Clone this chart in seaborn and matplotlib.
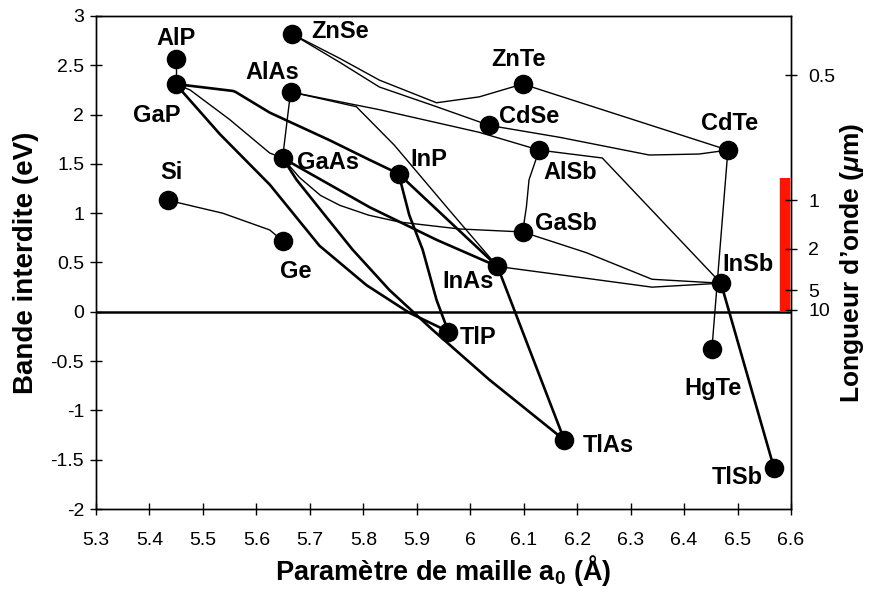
import pandas as pd
import matplotlib
matplotlib.use("Agg")
import matplotlib.pyplot as plt
import seaborn as sns

# binary compounds: lattice constant (A) and band gap (eV)
compounds = ["AlP", "GaP", "Si", "Ge", "ZnSe", "AlAs", "GaAs", "InP", "ZnTe", "CdSe",
             "AlSb", "CdTe", "GaSb", "InAs", "InSb", "TlP", "HgTe", "TlAs", "TlSb"]
lattice = [5.449, 5.449, 5.434, 5.649, 5.666, 5.664, 5.649, 5.866, 6.098, 6.036,
           6.129, 6.482, 6.098, 6.051, 6.469, 5.959, 6.452, 6.176, 6.568]
gap = [2.56, 2.31, 1.13, 0.72, 2.82, 2.23, 1.56, 1.40, 2.31, 1.89,
       1.64, 1.64, 0.81, 0.46, 0.29, -0.20, -0.38, -1.30, -1.58]

# alloy curves (lattice, gap)
GaP_InP = [(5.449, 2.31), (5.556, 2.24), (5.561, 2.23), (5.625, 2.02), (5.737, 1.74), (5.812, 1.54), (5.866, 1.40)]
GaP_TlP = [(5.449, 2.31), (5.532, 1.80), (5.625, 1.29), (5.718, 0.67), (5.806, 0.27), (5.886, -0.01), (5.959, -0.20)]
GaAs_TlAs = [(5.649, 1.56), (5.675, 1.34), (5.728, 0.98), (5.780, 0.63), (5.849, 0.22), (5.929, -0.18), (6.036, -0.69), (6.176, -1.30)]
InP_TlP = [(5.866, 1.40), (5.886, 0.98), (5.911, 0.63), (5.937, 0.12), (5.959, -0.20)]
InAs_TlAs = [(6.051, 0.46), (6.176, -1.30)]
InSb_TlSb = [(6.469, 0.29), (6.568, -1.58)]
GaAs_InAs = [(5.649, 1.56), (5.812, 1.06), (5.937, 0.73), (6.051, 0.46)]
InP_InAs = [(5.866, 1.40), (6.051, 0.46)]

AlP_GaP = [(5.449, 2.56), (5.449, 2.31)]
Si_Ge = [(5.434, 1.13), (5.451, 1.11), (5.537, 1.00), (5.625, 0.83), (5.649, 0.72)]
GaP_GaAs = [(5.449, 2.31), (5.476, 2.25), (5.550, 1.95), (5.625, 1.61), (5.649, 1.56)]
AlAs_GaAs = [(5.664, 2.23), (5.649, 1.56)]
AlAs_InAs = [(5.664, 2.23), (5.787, 2.08), (5.858, 1.69), (5.961, 1.03), (6.051, 0.46)]
GaAs_GaSb = [(5.649, 1.56), (5.681, 1.36), (5.720, 1.18), (5.756, 1.08), (5.810, 0.98), (5.868, 0.91), (5.980, 0.84), (6.098, 0.81)]
GaSb_InSb = [(6.098, 0.81), (6.217, 0.60), (6.340, 0.33), (6.469, 0.29)]
InAs_InSb = [(6.051, 0.46), (6.217, 0.34), (6.340, 0.25), (6.469, 0.29)]
AlSb_InSb = [(6.129, 1.64), (6.247, 1.56), (6.469, 0.29)]
AlSb_GaSb = [(6.129, 1.64), (6.110, 1.34), (6.105, 1.06), (6.098, 0.81)]
AlAs_AlSb = [(5.664, 2.23), (5.830, 2.05), (6.017, 1.82), (6.129, 1.64)]
ZnSe_ZnTe = [(5.666, 2.82), (5.756, 2.57), (5.830, 2.35), (5.937, 2.12), (6.017, 2.18), (6.098, 2.31)]
ZnSe_CdSe = [(5.666, 2.82), (5.756, 2.53), (5.830, 2.28), (5.937, 2.08), (6.036, 1.89)]
ZnTe_CdTe = [(6.098, 2.31), (6.482, 1.64)]
CdSe_CdTe = [(6.036, 1.89), (6.167, 1.77), (6.335, 1.59), (6.428, 1.60), (6.482, 1.64)]
CdTe_HgTe = [(6.482, 1.64), (6.452, -0.38)]

# right axis: wavelength (um) tick positions on the energy scale
wl_labels = ["0.5", "1", "2", "5", "10"]
wl_pos = [2.40, 1.13, 0.64, 0.22, 0.02]
red_band = [0.0, 1.36]

x_ticks = [5.3, 5.4, 5.5, 5.6, 5.7, 5.8, 5.9, 6.0, 6.1, 6.2, 6.3, 6.4, 6.5, 6.6]
x_labels = ["5.3", "5.4", "5.5", "5.6", "5.7", "5.8", "5.9", "6", "6.1", "6.2", "6.3", "6.4", "6.5", "6.6"]
y_ticks = [-2, -1.5, -1, -0.5, 0, 0.5, 1, 1.5, 2, 2.5, 3]
y_labels = ["-2", "-1.5", "-1", "-0.5", "0", "0.5", "1", "1.5", "2", "2.5", "3"]

thick = {"GaP-InP": GaP_InP, "GaP-TlP": GaP_TlP, "GaAs-TlAs": GaAs_TlAs, "InP-TlP": InP_TlP,
         "InAs-TlAs": InAs_TlAs, "InSb-TlSb": InSb_TlSb, "GaAs-InAs": GaAs_InAs, "InP-InAs": InP_InAs}
thin = {"AlP-GaP": AlP_GaP, "Si-Ge": Si_Ge, "GaP-GaAs": GaP_GaAs, "AlAs-GaAs": AlAs_GaAs,
        "AlAs-InAs": AlAs_InAs, "GaAs-GaSb": GaAs_GaSb, "GaSb-InSb": GaSb_InSb, "InAs-InSb": InAs_InSb,
        "AlSb-InSb": AlSb_InSb, "AlSb-GaSb": AlSb_GaSb, "AlAs-AlSb": AlAs_AlSb, "ZnSe-ZnTe": ZnSe_ZnTe,
        "ZnSe-CdSe": ZnSe_CdSe, "ZnTe-CdTe": ZnTe_CdTe, "CdSe-CdTe": CdSe_CdTe, "CdTe-HgTe": CdTe_HgTe}


def to_frame(curves):
    rows = []
    for name, pts in curves.items():
        for i, (a, e) in enumerate(pts):
            rows.append({"alloy": name, "order": i, "a": a, "eg": e})
    return pd.DataFrame(rows)


# label offsets in pixels (text centre relative to the point)
offsets = {"AlP": (0, 21), "GaP": (-19, -31), "Si": (4, 28), "Ge": (13, -31), "ZnSe": (48, 2),
           "AlAs": (-18, 19), "GaAs": (45, -5), "InP": (30, 14), "ZnTe": (-4, 25), "CdSe": (40, 9),
           "AlSb": (31, -22), "CdTe": (2, 27), "GaSb": (43, 8), "InAs": (-29, -15), "InSb": (27, 19),
           "TlP": (30, -6), "HgTe": (1, -39), "TlAs": (44, -6), "TlSb": (-37, -10)}

sns.set_theme(style="ticks")
plt.rcParams["font.family"] = ["Liberation Sans", "DejaVu Sans"]
plt.rcParams["text.color"] = "black"
plt.rcParams["axes.labelcolor"] = "black"
plt.rcParams["xtick.color"] = "black"
plt.rcParams["ytick.color"] = "black"
plt.rcParams["mathtext.fontset"] = "custom"
plt.rcParams["mathtext.it"] = "Liberation Sans:italic:bold"
plt.rcParams["mathtext.rm"] = "Liberation Sans:bold"

fig = plt.figure(figsize=(8.69, 5.92), dpi=100)
ax = fig.add_axes([96 / 869, 1 - 509 / 592, (791 - 96) / 869, (509 - 16) / 592])

ax.axhline(0, color="black", lw=1.8, zorder=1)

sns.lineplot(data=to_frame(thin), x="a", y="eg", units="alloy", estimator=None, sort=False,
             color="black", lw=1.0, ax=ax, zorder=2)
sns.lineplot(data=to_frame(thick), x="a", y="eg", units="alloy", estimator=None, sort=False,
             color="black", lw=1.9, ax=ax, zorder=3)
sns.scatterplot(x=lattice, y=gap, s=170, color="black", edgecolor="black", zorder=5, ax=ax)

for name, a, e in zip(compounds, lattice, gap):
    dx, dy = offsets[name]
    ax.annotate(name, (a, e), xytext=(dx, dy), textcoords="offset pixels",
                ha="center", va="center", fontsize=17, fontweight="bold", color="black")

ax.vlines(6.589, red_band[0], red_band[1], color="#ff1500", lw=7.5, zorder=4)

ax.set_xlim(5.3, 6.6)
ax.set_ylim(-2, 3)
ax.set_xticks(x_ticks, x_labels)
ax.set_yticks(y_ticks, y_labels)
ax.tick_params(direction="inout", length=9, width=1, colors="black", labelsize=14)
ax.tick_params(axis="x", pad=12)
ax.tick_params(axis="y", pad=4)
ax.set_xlabel(r"Paramètre de maille a$_\mathrm{0}$ (Å)", fontsize=19.5, fontweight="bold", labelpad=3)
ax.set_ylabel("Bande interdite (eV)", fontsize=20, fontweight="bold", labelpad=8)

ax2 = ax.twinx()
ax2.set_ylim(-2, 3)
ax2.set_yticks(wl_pos, wl_labels)
ax2.tick_params(direction="inout", length=9, width=1, colors="black", labelsize=14, pad=8)
ax2.set_ylabel(r"Longueur d’onde ($\mu$m)", fontsize=19, fontweight="bold", labelpad=2)

for a in (ax, ax2):
    for sp in a.spines.values():
        sp.set_color("black")
        sp.set_linewidth(1.0)

fig.savefig("out.png", dpi=100)
